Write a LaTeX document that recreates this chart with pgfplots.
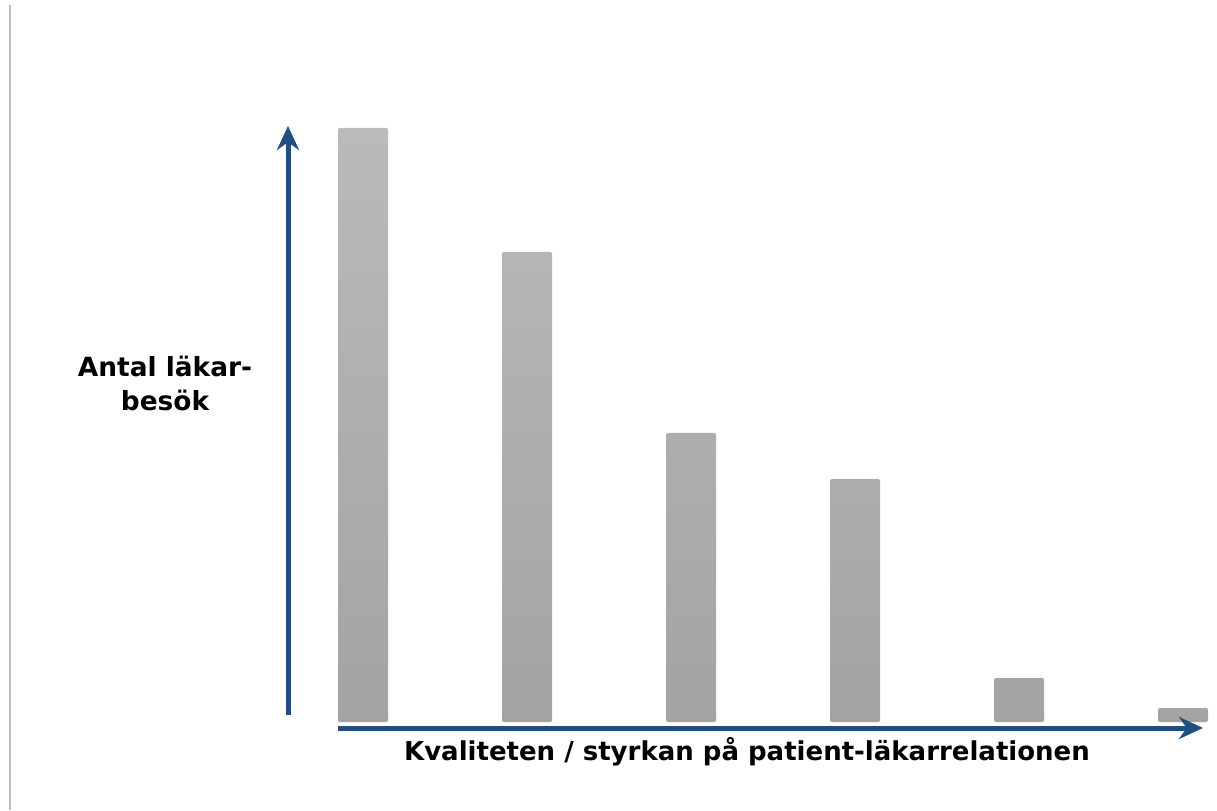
\documentclass[border=0pt]{standalone}
\usepackage{pgfplots}
\pgfplotsset{compat=1.18}
\usepackage{fontspec}
\setmainfont{DejaVu Sans}
\usetikzlibrary{arrows.meta}
\definecolor{axblue}{HTML}{1F4E80}
\begin{document}
\begin{tikzpicture}
\begin{axis}[
  width=608.5pt, height=405pt, scale only axis,
  at={(0,0)}, anchor=south west,
  xmin=0, xmax=1217, ymin=-88, ymax=722,
  hide axis, clip=false,
  ybar, bar width=50,
]
\addplot[draw=none, shade, top color=black!27, bottom color=black!36, rounded corners=1pt]
  coordinates {(363,594) (527,470) (691,289) (855,243) (1019,44) (1183,14)};
\draw[black!25, line width=0.8pt] (axis cs:10,717) -- (axis cs:10,-88);
\draw[axblue, line width=2.5pt, -{Stealth[length=12pt, width=11pt]}] (axis cs:288,7) -- (axis cs:288,596);
\draw[axblue, line width=2.5pt, -{Stealth[length=12pt, width=11pt]}] (axis cs:338,-6) -- (axis cs:1203,-6);
\node[font=\fontsize{13.2}{17}\selectfont\bfseries, align=center] at (axis cs:165,339) {Antal läkar-\\besök};
\node[font=\fontsize{13}{17}\selectfont\bfseries] at (axis cs:747,-30) {Kvaliteten / styrkan på patient-läkarrelationen};
\end{axis}
\pgfresetboundingbox
\path (0,0) rectangle (608.5pt,405pt);
\end{tikzpicture}
\end{document}
